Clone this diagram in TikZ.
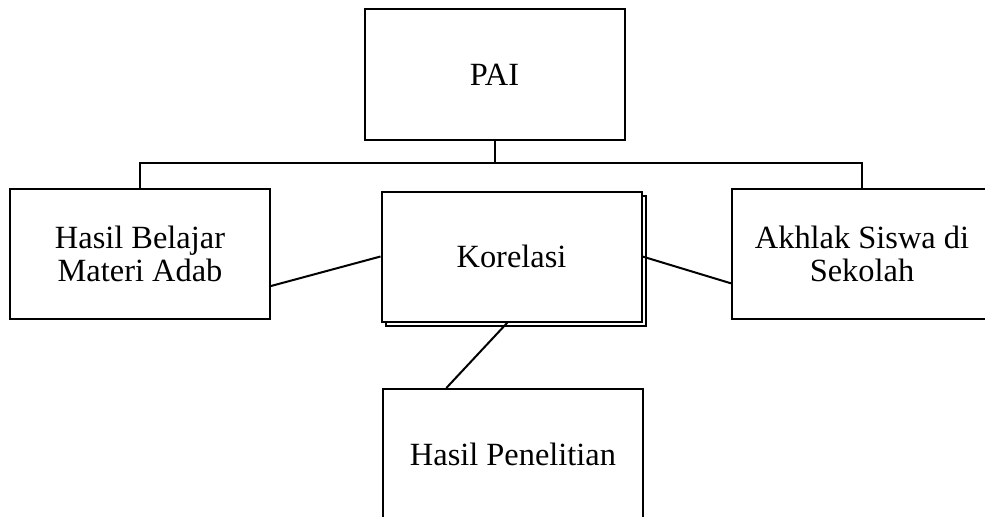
\documentclass[tikz,border=0pt]{standalone}
\usepackage{fontspec}
\setmainfont{Liberation Serif}
\usetikzlibrary{shadows}

\begin{document}
\begin{tikzpicture}[x=0.75pt, y=-0.75pt,
  box/.style={draw=black, fill=white, line width=1.5pt, align=center,
    minimum width=195pt, minimum height=97.5pt, inner sep=0pt,
    font=\fontsize{24.3}{25}\selectfont},
  shadowbox/.style={box, copy shadow={shadow xshift=3pt, shadow yshift=-3pt}},
  link/.style={draw=black, line width=1.5pt}]
% The figure is cut off at the right and bottom edge of the page
\coordinate (page) at (985, 517);
\useasboundingbox (0,0) rectangle (page);
\clip (0,0) rectangle (page);

% Boxes
\node[box]       (pai)        at (494.5, 74.5) {PAI};
\node[box]       (hasil)      at (140, 254)    {Hasil Belajar\\Materi Adab};
\node[shadowbox] (korelasi)   at (511.5, 256.5) {Korelasi};
\node[box]       (akhlak)     at (862, 254)    {Akhlak Siswa di\\Sekolah};
\node[box]       (penelitian) at (513, 454)    {Hasil Penelitian};

% Tree below PAI
\coordinate (bar) at ([yshift=-16.5pt] pai.south);
\draw[link] (pai.south) -- (bar);
\draw[link] (hasil.north) |- (bar) -| (akhlak.north);

% Links to Korelasi
\draw[link] ([yshift=-24pt] hasil.east) -- (korelasi.west);
\draw[link] (korelasi.east) -- ([yshift=-22pt] akhlak.west);
\draw[link] ([xshift=-3pt] korelasi.south) -- ([xshift=-50pt] penelitian.north);

\end{tikzpicture}
\end{document}
